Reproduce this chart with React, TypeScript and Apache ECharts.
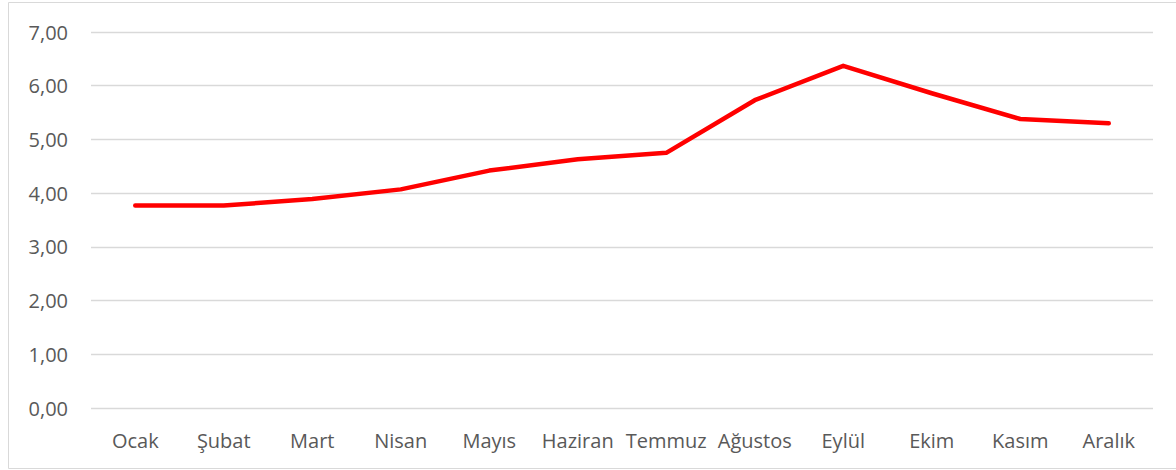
import React, { useEffect, useRef } from "react";
import * as echarts from "echarts";

const months = ["Ocak", "Şubat", "Mart", "Nisan", "Mayıs", "Haziran", "Temmuz", "Ağustos", "Eylül", "Ekim", "Kasım", "Aralık"];
const values = [3.77, 3.77, 3.89, 4.07, 4.42, 4.63, 4.75, 5.73, 6.37, 5.86, 5.38, 5.30];

const FONT = "'Open Sans', sans-serif";
const TEXT = "#595959";

export default function App() {
  const ref = useRef<HTMLDivElement>(null);
  useEffect(() => {
    if (!ref.current) return;
    const chart = echarts.init(ref.current, undefined, { renderer: "svg" });
    chart.setOption({
      animation: false,
      backgroundColor: "#ffffff",
      grid: { left: 91, right: 23, top: 32, bottom: 62, containLabel: false },
      graphic: [
        {
          type: "rect",
          shape: { x: 8.5, y: 2.5, width: 1200, height: 466 },
          style: { fill: "none", stroke: "#d9d9d9", lineWidth: 1 },
          silent: true,
        },
      ],
      xAxis: {
        type: "category",
        data: months,
        boundaryGap: true,
        axisLine: { show: false },
        axisTick: { show: false },
        axisLabel: {
          color: TEXT,
          fontFamily: FONT,
          fontSize: 20,
          lineHeight: 20,
          margin: 22,
          interval: 0,
        },
        splitLine: { show: false },
      },
      yAxis: {
        type: "value",
        min: 0,
        max: 7,
        interval: 1,
        axisLine: { show: false },
        axisTick: { show: false },
        axisLabel: {
          color: TEXT,
          fontFamily: FONT,
          fontSize: 20,
          margin: 23,
          formatter: (v: number) => v.toFixed(2).replace(".", ","),
        },
        splitLine: { show: true, lineStyle: { color: "#d9d9d9", width: 1.3 } },
      },
      series: [
        {
          type: "line",
          data: values,
          symbol: "none",
          smooth: false,
          lineStyle: { color: "#ff0000", width: 4.5, cap: "round", join: "round" },
        },
      ],
    });
    return () => chart.dispose();
  }, []);
  return (
    <div
      ref={ref}
      style={{ position: "absolute", left: 0, top: 0, width: 1176, height: 470 }}
    />
  );
}
